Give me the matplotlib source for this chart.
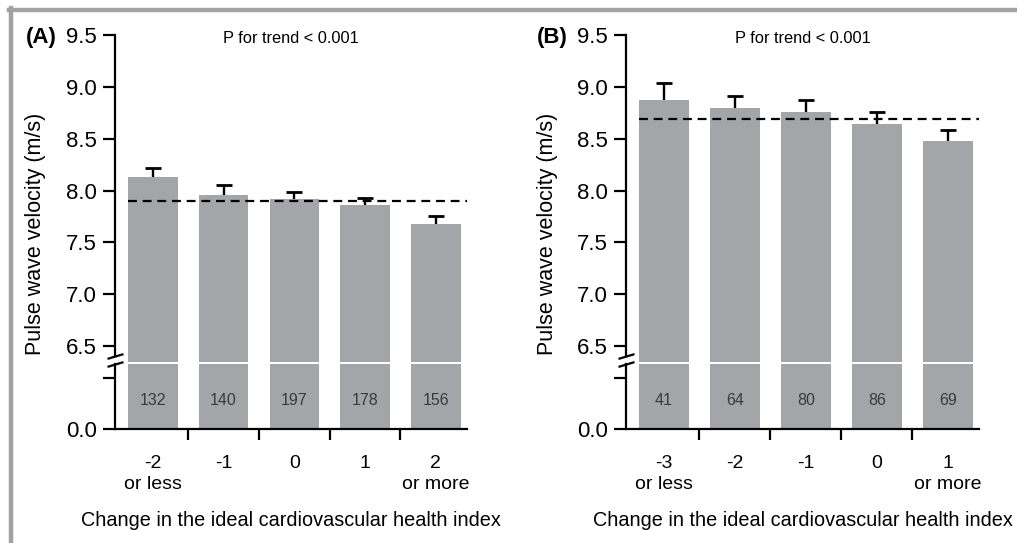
import matplotlib
matplotlib.use("Agg")
import numpy as np
import matplotlib.pyplot as plt
from matplotlib.lines import Line2D

plt.rcParams['font.family'] = ['Liberation Sans', 'DejaVu Sans']

# Panel A data
labels_a = ['-2\nor less', '-1', '0', '1', '2\nor more']
means_a = [8.135, 7.955, 7.923, 7.862, 7.68]
err_a = [0.085, 0.095, 0.067, 0.068, 0.07]
counts_a = [132, 140, 197, 178, 156]
ref_a = 7.897

# Panel B data
labels_b = ['-3\nor less', '-2', '-1', '0', '1\nor more']
means_b = [8.874, 8.797, 8.758, 8.642, 8.478]
err_b = [0.161, 0.119, 0.116, 0.113, 0.106]
counts_b = [41, 64, 80, 86, 69]
ref_b = 8.69

yticks_up = [6.5, 7.0, 7.5, 8.0, 8.5, 9.0, 9.5]

BAR = '#a4a5a9'
W, H = 1017, 543


def px(x, y, w, h):
    """Convert a pixel box (top-left origin) to figure fractions."""
    return [x / W, 1 - (y + h) / H, w / W, h / H]


def draw_panel(fig, left, width, labels, means, err, counts, ref, tag):
    xs = list(range(len(means)))
    xlim = (-0.535, 4.44)
    ylo = 9.5 - (361.5 - 35) / 103.7

    ax_up = fig.add_axes(px(left, 35, width, 326.5))
    ax_lo = fig.add_axes(px(left, 363.5, width, 65.5))

    for ax in (ax_up, ax_lo):
        ax.bar(xs, means, width=0.7, color=BAR, zorder=1)
        ax.set_xlim(*xlim)
        for s in ('top', 'right'):
            ax.spines[s].set_visible(False)
        ax.spines['left'].set_linewidth(1.6)
        ax.spines['bottom'].set_linewidth(1.6)
        ax.tick_params(axis='y', direction='out', length=9, width=1.6,
                       labelsize=16, pad=4)

    # upper part: one-sided error bars (upper cap only)
    _, caps, _ = ax_up.errorbar(xs, means, yerr=[[0] * len(err), err], fmt='none',
                                ecolor='black', elinewidth=1.7, capsize=5.8,
                                capthick=2.0, zorder=3)
    for cap in caps:
        if np.allclose(cap.get_ydata(), means):
            cap.set_visible(False)
    ax_up.hlines(ref, -0.35, xlim[1], colors='black', linestyles=(0, (4.0, 2.6)),
                 linewidth=1.6, zorder=4)
    ax_up.set_ylim(ylo, 9.5)
    ax_up.set_yticks(yticks_up)
    ax_up.set_yticklabels([f'{v:.1f}' for v in yticks_up])
    ax_up.spines['bottom'].set_visible(False)
    ax_up.spines['left'].set_bounds(6.40, 9.5)
    ax_up.set_xticks([])
    ax_up.text(0.5, 0.99, 'P for trend < 0.001', transform=ax_up.transAxes,
               ha='center', va='center', fontsize=11.8)

    # lower part
    ax_lo.set_ylim(0, 6.4)
    ax_lo.set_yticks([0, 5])
    ax_lo.set_yticklabels(['0.0', ''])
    ax_lo.set_xticks(xs)
    ax_lo.set_xticklabels(labels, fontsize=14, linespacing=1.3)
    ax_lo.tick_params(axis='x', which='major', length=0, pad=19)
    ax_lo.set_xticks([0.5, 1.5, 2.5, 3.5], minor=True)
    ax_lo.tick_params(axis='x', which='minor', direction='out', length=8,
                      width=1.6)
    ax_lo.set_xlabel('Change in the ideal cardiovascular health index',
                     fontsize=14.3, labelpad=13)
    for x, n in zip(xs, counts):
        ax_lo.text(x, 0.43, str(n), transform=ax_lo.get_xaxis_transform(),
                   ha='center', va='center', fontsize=11.5, color='#3a3a3a')

    # break marks on the y axis
    slash = dict(marker=[(-1, -0.3), (1, 0.3)], markersize=11.5, linestyle='none',
                 color='black', mec='black', mew=1.6, clip_on=False)
    ax_up.plot([0], [6.40], transform=ax_up.get_yaxis_transform(), **slash)
    ax_lo.plot([0], [1.0], transform=ax_lo.transAxes, **slash)

    # y label and panel tag
    fig.text((left - 79) / W, 1 - 234 / H, 'Pulse wave velocity (m/s)',
             rotation=90, ha='center', va='center', fontsize=15.5)
    fig.text((left - 89) / W, 1 - 37 / H, tag, ha='left', va='center',
             fontsize=16, fontweight='bold')


fig = plt.figure(figsize=(10.17, 5.43), dpi=100)

draw_panel(fig, 115, 352, labels_a, means_a, err_a, counts_a, ref_a, '(A)')
draw_panel(fig, 626, 353, labels_b, means_b, err_b, counts_b, ref_b, '(B)')

# grey frame (top and left edges)
fig.add_artist(Line2D([9 / W, 1], [1 - 10 / H, 1 - 10 / H], color='#a2a2a4',
                      linewidth=3.2, transform=fig.transFigure))
fig.add_artist(Line2D([11 / W, 11 / W], [0, 1 - 8 / H], color='#a2a2a4',
                      linewidth=3.2, transform=fig.transFigure))

fig.savefig('out.png', dpi=100)
